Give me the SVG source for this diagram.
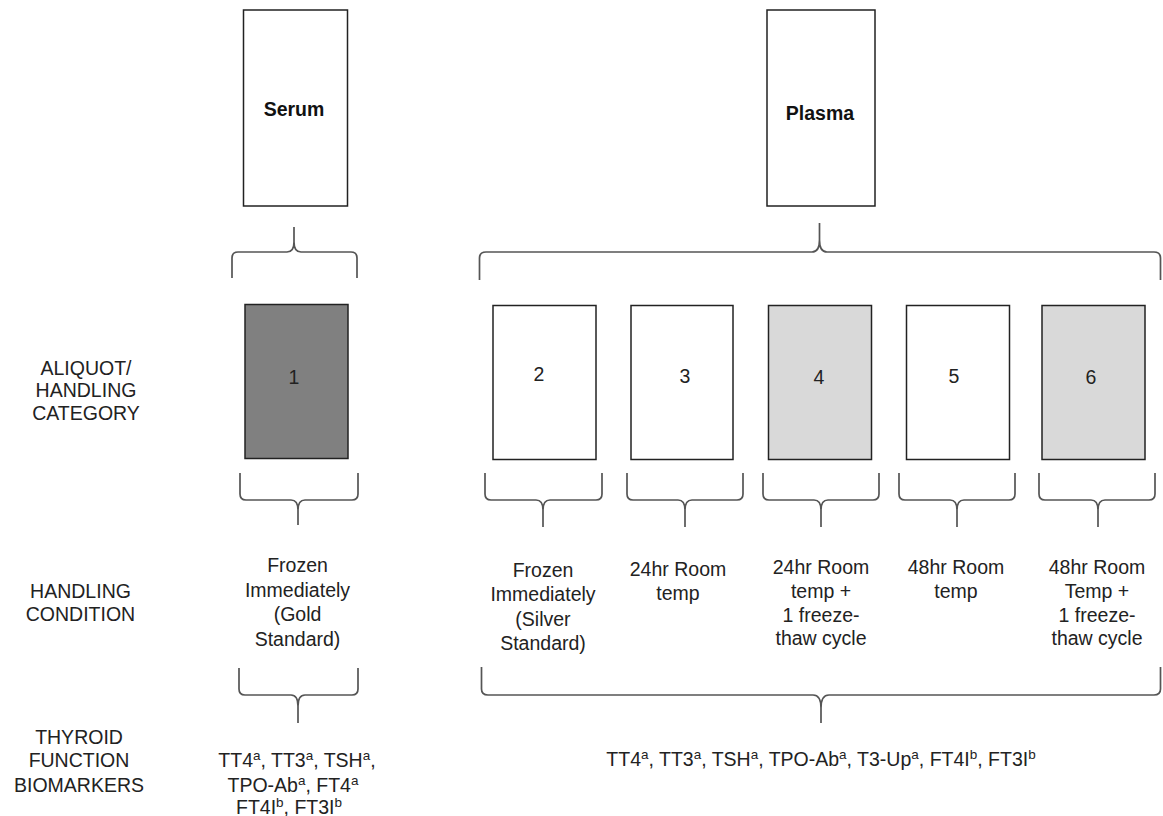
<svg xmlns="http://www.w3.org/2000/svg" width="1163" height="816" viewBox="0 0 1163 816">
<style>
text{font-family:"Liberation Sans",Arial,sans-serif;font-size:19.5px;fill:#222;text-anchor:middle}
.b{font-weight:bold;fill:#111}
.box{stroke:#222;stroke-width:1.5}
.brace{fill:none;stroke:#555;stroke-width:1.7;stroke-linejoin:round}
.sup{font-size:13.5px}
</style>
<rect width="1163" height="816" fill="#fff"/>
<g id="row-labels">
<text x="86" y="375">ALIQUOT/</text>
<text x="86" y="397">HANDLING</text>
<text x="86" y="420">CATEGORY</text>
<text x="80.5" y="598">HANDLING</text>
<text x="80.5" y="621">CONDITION</text>
<text x="79" y="744">THYROID</text>
<text x="79" y="767">FUNCTION</text>
<text x="79" y="792">BIOMARKERS</text>
</g>
<g id="serum">
<rect class="box" x="243.5" y="10" width="104" height="196" fill="#fff"/>
<text class="b" x="294" y="116">Serum</text>
</g>
<g id="plasma">
<rect class="box" x="767" y="10" width="108" height="196" fill="#fff"/>
<text class="b" x="820" y="120">Plasma</text>
</g>
<g id="cat1">
<rect class="box" x="245" y="304.5" width="103" height="154" fill="#808080"/>
<text x="294" y="384">1</text>
</g>
<g id="cat2">
<rect class="box" x="493" y="305.5" width="103" height="154" fill="#fff"/>
<text x="539" y="381">2</text>
</g>
<g id="cat3">
<rect class="box" x="631" y="305.5" width="102" height="154" fill="#fff"/>
<text x="685" y="383">3</text>
</g>
<g id="cat4">
<rect class="box" x="768.5" y="305.5" width="103" height="154" fill="#d9d9d9"/>
<text x="819" y="384">4</text>
</g>
<g id="cat5">
<rect class="box" x="906.5" y="305.5" width="103" height="154" fill="#fff"/>
<text x="954" y="383">5</text>
</g>
<g id="cat6">
<rect class="box" x="1042" y="305.5" width="103" height="154" fill="#d9d9d9"/>
<text x="1091" y="384">6</text>
</g>
<g id="cond1">
<text x="297.5" y="572">Frozen</text>
<text x="297.5" y="597">Immediately</text>
<text x="297.5" y="621">(Gold</text>
<text x="297.5" y="646">Standard)</text>
</g>
<g id="cond2">
<text x="543" y="577">Frozen</text>
<text x="543" y="601">Immediately</text>
<text x="543" y="626">(Silver</text>
<text x="543" y="650">Standard)</text>
</g>
<g id="cond3">
<text x="678" y="576">24hr Room</text>
<text x="678" y="600">temp</text>
</g>
<g id="cond4">
<text x="821" y="574">24hr Room</text>
<text x="821" y="598">temp +</text>
<text x="821" y="622">1 freeze-</text>
<text x="821" y="645">thaw cycle</text>
</g>
<g id="cond5">
<text x="956" y="574">48hr Room</text>
<text x="956" y="598">temp</text>
</g>
<g id="cond6">
<text x="1097" y="574">48hr Room</text>
<text x="1097" y="598">Temp +</text>
<text x="1097" y="622">1 freeze-</text>
<text x="1097" y="645">thaw cycle</text>
</g>
<g id="serum-biomarkers">
<text x="297" y="767">TT4<tspan class="sup" dy="-7">a</tspan><tspan dy="7">, TT3</tspan><tspan class="sup" dy="-7">a</tspan><tspan dy="7">, TSH</tspan><tspan class="sup" dy="-7">a</tspan><tspan dy="7">,</tspan></text>
<text x="293" y="792">TPO-Ab<tspan class="sup" dy="-7">a</tspan><tspan dy="7">, FT4</tspan><tspan class="sup" dy="-7">a</tspan></text>
<text x="289" y="814">FT4I<tspan class="sup" dy="-7">b</tspan><tspan dy="7">,  FT3I</tspan><tspan class="sup" dy="-7">b</tspan></text>
</g>
<g id="plasma-biomarkers">
<text x="821" y="766">TT4<tspan class="sup" dy="-7">a</tspan><tspan dy="7">, TT3</tspan><tspan class="sup" dy="-7">a</tspan><tspan dy="7">, TSH</tspan><tspan class="sup" dy="-7">a</tspan><tspan dy="7">, TPO-Ab</tspan><tspan class="sup" dy="-7">a</tspan><tspan dy="7">, T3-Up</tspan><tspan class="sup" dy="-7">a</tspan><tspan dy="7">, FT4I</tspan><tspan class="sup" dy="-7">b</tspan><tspan dy="7">, FT3I</tspan><tspan class="sup" dy="-7">b</tspan></text>
</g>
<g id="connectors">
<path class="brace" d="M232,278 V258 Q232,252 238,252 H287 Q294,252 294,242 V227 M294,242 Q294,252 301,252 H351 Q357,252 357,258 V278"/>
<path class="brace" d="M479.5,280 V258 Q479.5,252 486,252 H812 Q819.5,252 819.5,240 V223 M819.5,240 Q819.5,252 827,252 H1154 Q1160.5,252 1160.5,258 V280"/>
<path class="brace" d="M240,473 V494 Q240,500 246,500 H291 Q298,500 298,510 V525 M298,510 Q298,500 305,500 H352 Q358,500 358,494 V473"/>
<path class="brace" d="M485,473 V494 Q485,500 491,500 H536 Q543,500 543,510 V527 M543,510 Q543,500 550,500 H596 Q602,500 602,494 V473"/>
<path class="brace" d="M627,473 V494 Q627,500 633,500 H678 Q685,500 685,510 V527 M685,510 Q685,500 692,500 H737 Q743,500 743,494 V473"/>
<path class="brace" d="M763,473 V494 Q763,500 769,500 H814 Q821,500 821,510 V527 M821,510 Q821,500 828,500 H873 Q879,500 879,494 V473"/>
<path class="brace" d="M899,473 V494 Q899,500 905,500 H950 Q957,500 957,510 V527 M957,510 Q957,500 964,500 H1009 Q1015,500 1015,494 V473"/>
<path class="brace" d="M1039,473 V494 Q1039,500 1045,500 H1091 Q1098,500 1098,510 V527 M1098,510 Q1098,500 1105,500 H1149 Q1155,500 1155,494 V473"/>
<path class="brace" d="M239,668 V689 Q239,695 245,695 H291 Q298,695 298,706 V723 M298,706 Q298,695 305,695 H352 Q358,695 358,689 V668"/>
<path class="brace" d="M481.5,667 V689 Q481.5,695 488,695 H813 Q821,695 821,708 V723 M821,708 Q821,695 829,695 H1154 Q1160.5,695 1160.5,689 V667"/>
</g>
</svg>
